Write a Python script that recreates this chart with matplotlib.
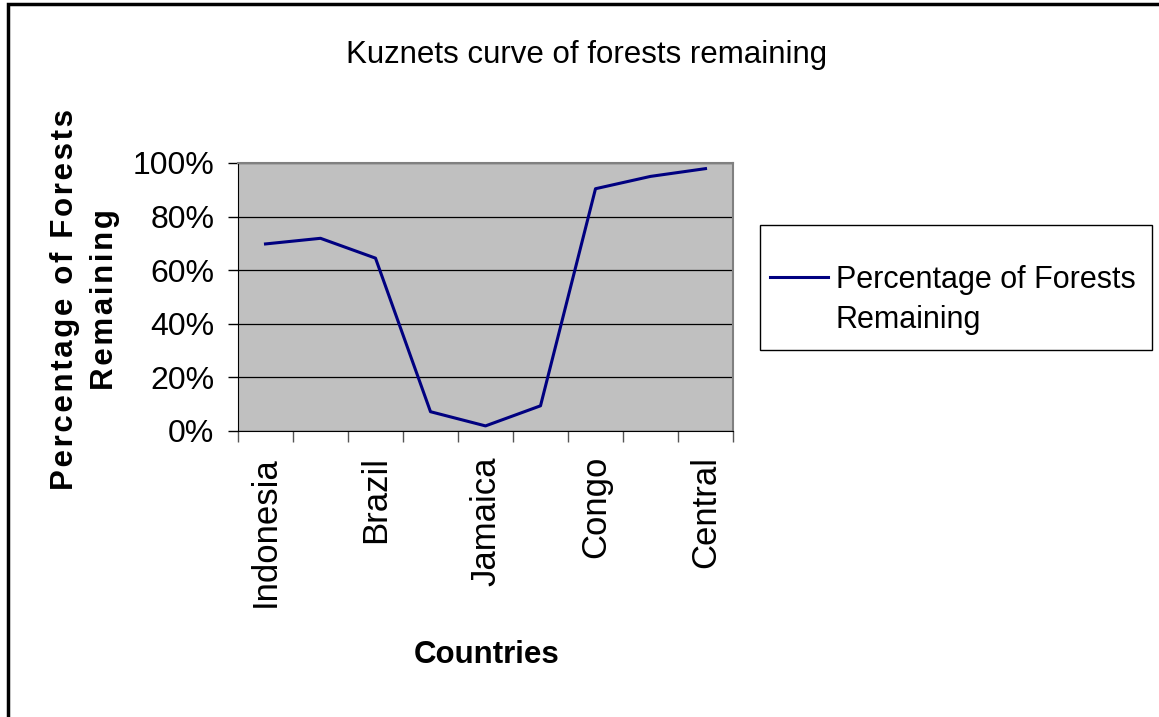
import matplotlib
matplotlib.use('Agg')
import matplotlib.pyplot as plt
from matplotlib.patches import Rectangle
from matplotlib.lines import Line2D
from matplotlib.ticker import FixedLocator, PercentFormatter

# data
countries = ['Indonesia', '', 'Brazil', '', 'Jamaica', '', 'Congo', '', 'Central']
remaining = [69.8, 71.9, 64.5, 7.2, 1.9, 9.4, 90.4, 95.0, 97.9]
y_ticks = [0, 20, 40, 60, 80, 100]

plt.rcParams['font.family'] = ['Liberation Sans', 'DejaVu Sans']

W, H = 1159, 717
fig = plt.figure(figsize=(W / 100, H / 100), dpi=100)
# outer chart frame, cut off at right and bottom like the original
fig.patches.append(Rectangle((8 / W, -0.05), 1.2, 1 - 4 / H + 0.05,
                             transform=fig.transFigure, fill=False,
                             edgecolor='black', linewidth=2.5))

ax = fig.add_axes([238 / W, 1 - 431 / H, (733 - 238) / W, (431 - 163) / H])
ax.set_facecolor('#c0c0c0')

x = list(range(len(remaining)))
line, = ax.plot(x, remaining, color='#000080', linewidth=2.2)

ax.set_xlim(-0.5, len(remaining) - 0.5)
ax.set_ylim(0, 100)
ax.set_yticks(y_ticks)
ax.yaxis.set_major_formatter(PercentFormatter(decimals=0))
ax.grid(axis='y', color='black', linewidth=0.9)
ax.set_axisbelow(True)

# tick marks on category boundaries, labels centred on categories
ax.xaxis.set_major_locator(FixedLocator([i - 0.5 for i in range(len(remaining) + 1)]))
ax.xaxis.set_major_formatter(plt.NullFormatter())
ax.xaxis.set_minor_locator(FixedLocator(x))
ax.set_xticklabels(countries, minor=True, rotation=90, fontsize=25)
ax.tick_params(axis='x', which='major', length=8, width=1, direction='out', color='#555555')
ax.tick_params(axis='x', which='minor', length=0, pad=18)
ax.tick_params(axis='y', length=7, width=1, direction='out', labelsize=23, pad=10)

for side in ['top', 'right']:
    ax.spines[side].set_color('#808080')
    ax.spines[side].set_linewidth(1.5)
ax.spines['left'].set_color('black')
ax.spines['bottom'].set_color('black')

fig.text(587 / W, 1 - 55 / H, 'Kuznets curve of forests remaining',
         ha='center', va='center', fontsize=22.5)
fig.text(487 / W, 1 - 655 / H, 'Countries', ha='center', va='center',
         fontsize=22.5, fontweight='bold')

# the original y title is letter-spaced; hair spaces imitate that
def spaced(s):
    return '\u200a'.join(s)

fig.text(85 / W, 1 - 300 / H, spaced('Percentage of Forests') + '\n' + spaced('Remaining'),
         ha='center', va='center', rotation=90, fontsize=22.5, fontweight='bold',
         multialignment='center', linespacing=1.4)

# legend frame drawn separately (Excel pads it more vertically than horizontally)
fig.patches.append(Rectangle((760 / W, 1 - 350 / H), (1152 - 760) / W, 125 / H,
                             transform=fig.transFigure, fill=False,
                             edgecolor='black', linewidth=1))
blank = Line2D([], [], color='none')
fig.legend(handles=[line, blank], labels=['Percentage of Forests', 'Remaining'],
           loc='center left', bbox_to_anchor=(770 / W, 1 - 300 / H),
           fontsize=22, frameon=False, handlelength=1.9, handletextpad=0.26,
           borderpad=0, borderaxespad=0, labelspacing=0.35)

fig.savefig('out.png', dpi=100)
